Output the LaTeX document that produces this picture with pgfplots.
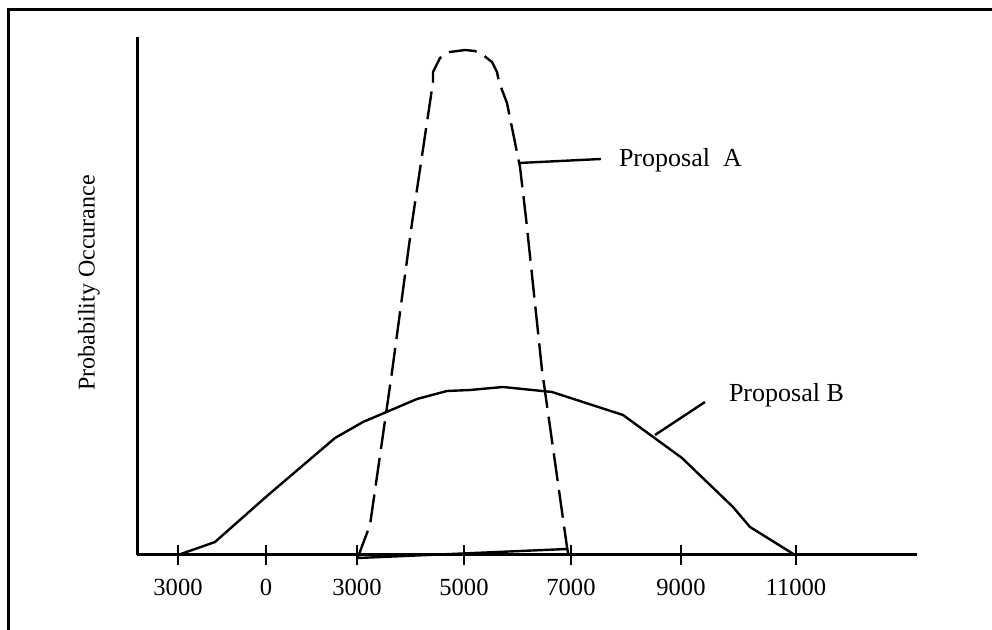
\documentclass[border=0pt]{standalone}
\usepackage{fontspec}
\setmainfont{Liberation Serif}
\usepackage{pgfplots}
\pgfplotsset{compat=1.18}
\begin{document}
\begin{tikzpicture}
\useasboundingbox (0,0) rectangle (496bp,315bp);
\draw[line width=1.5bp] (4bp,-2bp) -- (4bp,310bp) -- (498bp,310bp);
\begin{axis}[
  at={(68.5bp,37.5bp)}, anchor=south west,
  scale only axis, width=390bp, height=259bp,
  xmin=137, xmax=917, ymin=0, ymax=518,
  axis lines=left,
  axis line style={-, line width=1.5bp},
  clip=false,
  xtick={178,266,357,464,571,681,796},
  xticklabels={3000,0,3000,5000,7000,9000,11000},
  ytick=\empty,
  tick align=center,
  major tick length=10bp,
  tick style={line width=1.2bp, black},
  xticklabel style={font=\fontsize{12.3bp}{14bp}\selectfont, yshift=-3.5bp},
  /pgf/number format/assume math mode=true,
]
% Proposal B (solid)
\addplot[black, line width=1.2bp] coordinates {
(178,0) (215,13) (267,59) (335,117) (363,133) (417,156) (447,164) (470,165)
(503,168) (552,163) (623,140) (682,97) (733,48) (750,28) (795,0)
};
% Proposal A (dashed)
\addplot[black, line width=1.2bp, dash pattern=on 14bp off 4.5bp] coordinates {
(358,-2) (370,30) (392,183) (412,332) (433,473) (433,483) (440,497) (450,503)
(465,505) (475,504) (483,500) (492,493) (497,483) (499,473) (507,452) (510,437)
(520,388) (526,337) (542,185) (567,8) (569,-3)
};
% closing base line of Proposal A
\addplot[black, line width=1.2bp] coordinates {(567,6) (358,-3)};
% leader lines
\addplot[black, line width=1.2bp] coordinates {(519,392) (601,396)};
\addplot[black, line width=1.2bp] coordinates {(655,120) (705,153)};
\node[anchor=west, font=\fontsize{13bp}{15bp}\selectfont] at (axis cs:612,395) {Proposal\ \ A};
\node[anchor=west, font=\fontsize{13bp}{15bp}\selectfont] at (axis cs:722,160) {Proposal B};
\node[rotate=90, font=\fontsize{12bp}{14bp}\selectfont] at (axis cs:89,272) {Probability Occurance};
\end{axis}
\end{tikzpicture}
\end{document}
